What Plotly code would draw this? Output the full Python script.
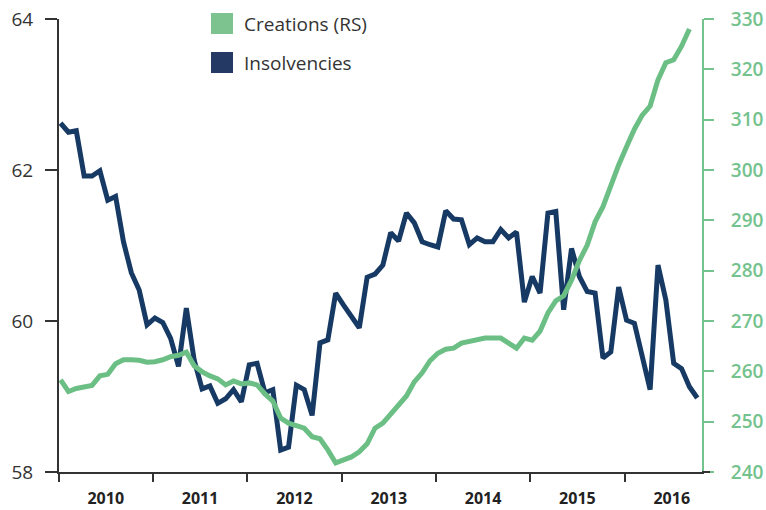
import plotly.graph_objects as go

years = ["2010", "2011", "2012", "2013", "2014", "2015", "2016"]

insolvencies = [
    62.62, 62.50, 62.52, 61.92, 61.92, 61.99, 61.60, 61.65, 61.05, 60.64,
    60.41, 59.95, 60.04, 59.98, 59.77, 59.40, 60.17, 59.48, 59.10, 59.14,
    58.91, 58.97, 59.09, 58.93, 59.42, 59.44, 59.05, 59.09, 58.29, 58.33,
    59.15, 59.09, 58.75, 59.71, 59.75, 60.37, 60.21, 60.07, 59.91, 60.58,
    60.62, 60.74, 61.17, 61.06, 61.43, 61.30, 61.05, 61.01, 60.98, 61.46,
    61.35, 61.34, 61.01, 61.10, 61.05, 61.05, 61.21, 61.10, 61.18, 60.25,
    60.59, 60.37, 61.43, 61.45, 60.15, 60.96, 60.59, 60.39, 60.37, 59.51,
    59.59, 60.45, 60.01, 59.97, 59.53, 59.09, 60.74, 60.28, 59.44, 59.37,
    59.13, 58.98,
]

creations = [
    258.3, 256.0, 256.6, 256.8, 257.2, 259.1, 259.4, 261.5, 262.3, 262.3,
    262.2, 261.8, 261.9, 262.3, 262.9, 263.2, 263.8, 261.1, 259.9, 259.1,
    258.5, 257.3, 258.1, 257.5, 257.7, 257.3, 255.5, 254.1, 250.7, 249.7,
    249.3, 248.7, 247.0, 246.6, 244.4, 241.8, 242.4, 243.0, 244.0, 245.6,
    248.7, 249.7, 251.5, 253.5, 255.1, 257.9, 259.7, 262.1, 263.6, 264.4,
    264.6, 265.6, 266.0, 266.4, 266.6, 266.6, 266.6, 265.6, 264.6, 266.6,
    266.2, 268.0, 271.6, 274.0, 275.0, 278.1, 282.0, 285.1, 289.7, 292.7,
    297.2, 301.0, 304.6, 308.1, 310.9, 312.7, 317.9, 321.3, 321.9, 324.6,
    328.0,
]

NAVY = "#173a64"
GREEN = "#6cbf84"
AXIS_GREEN = "#74c28d"
DARK = "#333333"
FONT = "Open Sans"

x_ins = list(range(len(insolvencies)))
x_cre = list(range(len(creations)))

label_pos = [12 * k + 5.75 for k in range(len(years))]
boundaries = [-0.2] + [12 * k + 11.75 for k in range(len(years) - 1)]

fig = go.Figure()
fig.add_trace(go.Scatter(
    x=x_cre, y=creations, yaxis="y2", mode="lines",
    line=dict(color=GREEN, width=5), name="Creations (RS)", showlegend=False,
))
fig.add_trace(go.Scatter(
    x=x_ins, y=insolvencies, yaxis="y", mode="lines",
    line=dict(color=NAVY, width=5), name="Insolvencies", showlegend=False,
))

fig.update_layout(
    width=766, height=510,
    margin=dict(l=59, r=64, t=19, b=38, autoexpand=False),
    paper_bgcolor="white", plot_bgcolor="white",
    font=dict(family=FONT, color=DARK),
    xaxis=dict(
        range=[-0.2, 81.6], showgrid=False, zeroline=False, automargin=False,
        showline=True, linecolor=DARK, linewidth=2,
        tickmode="array", tickvals=label_pos, ticktext=years,
        ticks="outside", ticklen=11, tickcolor="rgba(0,0,0,0)",
        ticklabeloverflow="allow",
        tickfont=dict(family=FONT, size=16, color="#222222", weight=700),
        minor=dict(tickmode="array", tickvals=boundaries, ticks="outside",
                   ticklen=8, tickwidth=1.5, tickcolor=DARK, showgrid=False),
    ),
    yaxis=dict(
        range=[58, 64], dtick=2, tick0=58, showgrid=False, zeroline=False,
        automargin=False, ticklabeloverflow="allow",
        showline=True, linecolor=DARK, linewidth=2,
        ticks="outside", ticklen=12, tickwidth=1.5, tickcolor=DARK,
        ticklabelstandoff=8,
        tickfont=dict(family=FONT, size=19, color=DARK),
    ),
    yaxis2=dict(
        range=[240, 330], dtick=10, tick0=240, overlaying="y", side="right",
        showgrid=False, zeroline=False, automargin=False, ticklabeloverflow="allow",
        showline=True, linecolor=AXIS_GREEN, linewidth=2,
        ticks="outside", ticklen=10, tickwidth=1.5, tickcolor=AXIS_GREEN,
        ticklabelstandoff=13,
        tickfont=dict(family=FONT, size=19, color=AXIS_GREEN, weight=600),
    ),
    showlegend=False,
)

# manual legend (square swatches + labels), positions in page pixels
def px_x(p):
    return (p - 59) / 643

def px_y(p):
    return (472 - p) / 453

# bottom axis line runs a little past the right axis
fig.add_shape(type="line", xref="paper", yref="paper",
              x0=1, x1=px_x(710), y0=0, y1=0, line=dict(color=DARK, width=2))

legend_items = [("Creations (RS)", "#7cc38f", 13, 34), ("Insolvencies", "#243a64", 52, 73)]
for text, col, top, bot in legend_items:
    fig.add_shape(type="rect", xref="paper", yref="paper",
                  x0=px_x(211), x1=px_x(233), y0=px_y(bot), y1=px_y(top),
                  fillcolor=col, line=dict(width=0))
    fig.add_annotation(xref="paper", yref="paper", x=px_x(242), y=px_y((top + bot) / 2),
                       text=text, showarrow=False, xanchor="left", yanchor="middle",
                       font=dict(family=FONT, size=19, color=DARK))

fig.write_html(
    "out.html",
    config={"displayModeBar": False},
    post_script="document.body.style.margin='0';document.body.style.overflow='hidden';",
)
